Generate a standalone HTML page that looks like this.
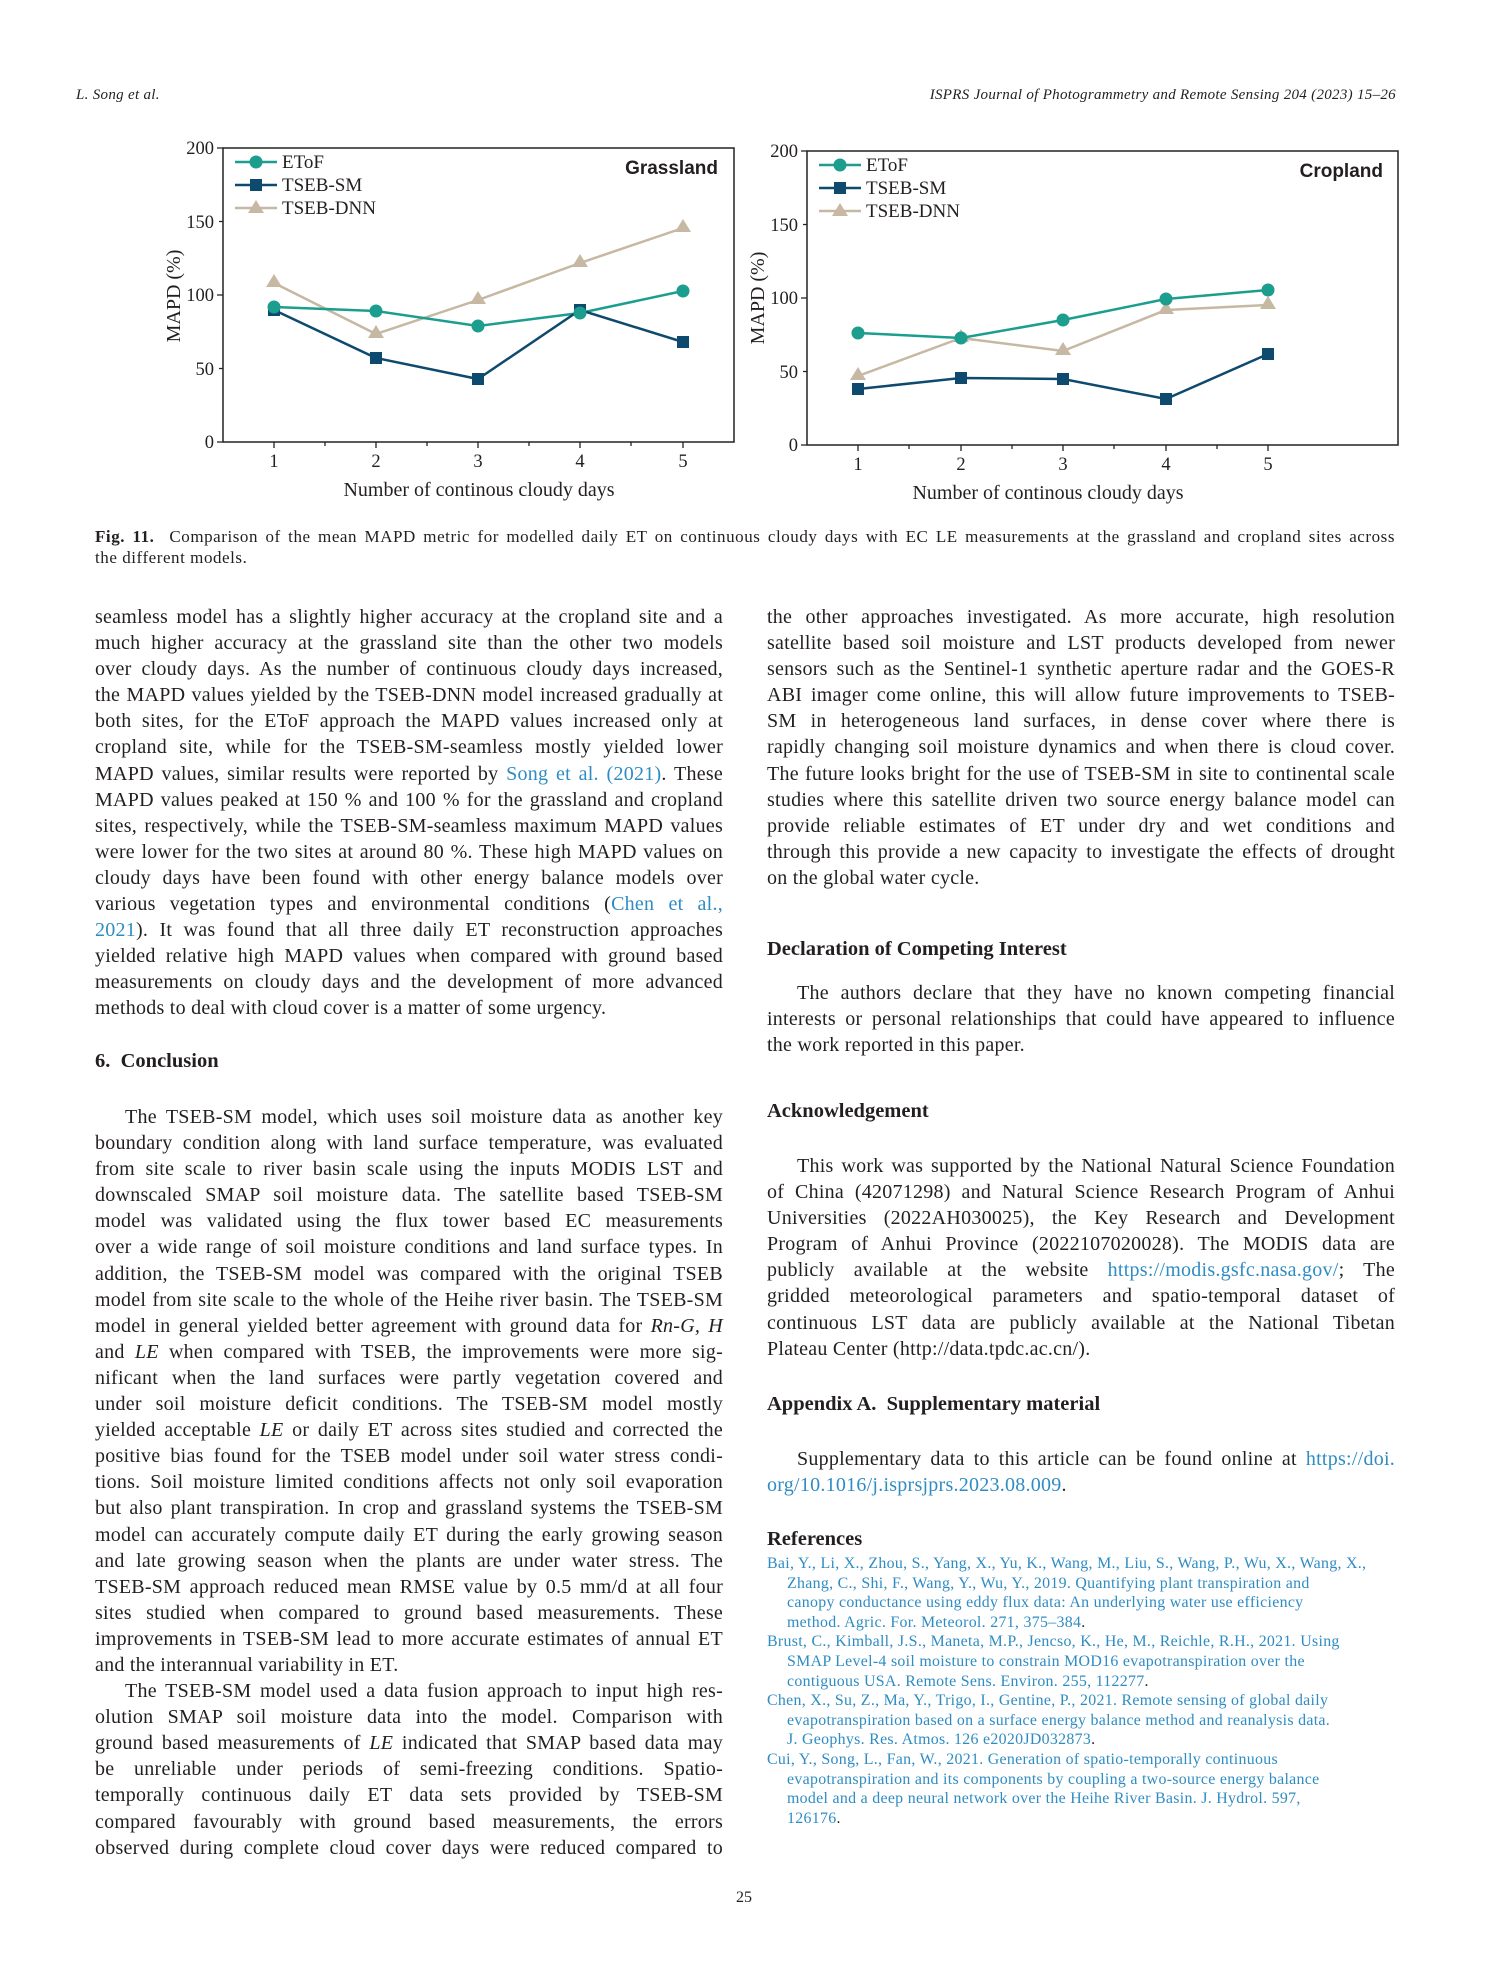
<!DOCTYPE html>
<html><head><meta charset="utf-8"><style>
body{margin:0;background:#fff;}
#pg{position:relative;width:1488px;height:1984px;overflow:hidden;font-family:"Liberation Serif",serif;color:#231f20;}
.a{position:absolute;}
.p{position:absolute;width:628px;font-size:20px;letter-spacing:0.25px;line-height:26.1px;}
.p div{text-align:justify;text-align-last:justify;white-space:nowrap;}
.p div.e{text-align-last:left;}
.p div.i{text-indent:30px;}
.lk{color:#2f8cc3;}
.h{position:absolute;font-weight:bold;font-size:20.5px;}
.r{position:absolute;left:767px;width:640px;font-size:15.9px;letter-spacing:0.3px;line-height:19.6px;color:#2f8cc3;white-space:nowrap;}
.r div{padding-left:20px;text-indent:-20px;}
.cap{position:absolute;left:95px;width:1300px;font-size:17px;letter-spacing:0.55px;line-height:21px}
.cap div{text-align:justify;text-align-last:justify;white-space:nowrap}
</style></head><body><div id="pg">
<div class="a" style="left:76px;top:87px;font-size:15px;font-style:italic;letter-spacing:0.3px">L. Song et al.</div>
<div class="a" style="right:92px;top:87px;font-size:15px;font-style:italic;letter-spacing:0.3px">ISPRS Journal of Photogrammetry and Remote Sensing 204 (2023) 15–26</div>

<svg class="a" style="left:0;top:0" width="1488" height="520" font-family="Liberation Serif, serif" fill="#231f20">
<g stroke="#222" stroke-width="1.5" fill="none">
<rect x="223" y="148" width="511" height="294"/>
<rect x="807" y="151" width="591" height="294"/>
</g>
<g stroke="#222" stroke-width="1.3">
<path d="M223 148h-6M223 221.5h-4M223 295h-6M223 368.5h-4M223 442h-6M274 442v6M376 442v6M478 442v6M580 442v6M683 442v6M325 442v4M427 442v4M529 442v4M631 442v4"/>
<path d="M807 151h-6M807 224.5h-4M807 298h-6M807 371.5h-4M807 445h-6M858 445v6M961 445v6M1063 445v6M1166 445v6M1268 445v6M909 445v4M1012 445v4M1114 445v4M1217 445v4"/>
</g>
<g font-size="18.5" text-anchor="end">
<text x="214" y="154">200</text><text x="214" y="228">150</text><text x="214" y="301">100</text><text x="214" y="375">50</text><text x="214" y="448">0</text>
<text x="798" y="157">200</text><text x="798" y="231">150</text><text x="798" y="304">100</text><text x="798" y="378">50</text><text x="798" y="451">0</text>
</g>
<g font-size="18.5" text-anchor="middle">
<text x="274" y="467">1</text><text x="376" y="467">2</text><text x="478" y="467">3</text><text x="580" y="467">4</text><text x="683" y="467">5</text>
<text x="858" y="470">1</text><text x="961" y="470">2</text><text x="1063" y="470">3</text><text x="1166" y="470">4</text><text x="1268" y="470">5</text>
<text x="479" y="496" font-size="20">Number of continous cloudy days</text>
<text x="1048" y="499" font-size="20">Number of continous cloudy days</text>
<text transform="translate(180,296) rotate(-90)" font-size="20">MAPD (%)</text>
<text transform="translate(764,298) rotate(-90)" font-size="20">MAPD (%)</text>
</g>
<g font-family="Liberation Sans, sans-serif" font-weight="bold" font-size="19" text-anchor="end">
<text x="718" y="174">Grassland</text><text x="1383" y="177">Cropland</text>
</g>
<polyline fill="none" stroke="#c6b8a2" stroke-width="2.5" points="274,283 376,334 478,300 580,263 683,228"/>
<polyline fill="none" stroke="#1b9e8e" stroke-width="2.5" points="274,307 376,311 478,326 580,313 683,291"/>
<polyline fill="none" stroke="#0e4a6e" stroke-width="2.5" points="274,310 376,358 478,379 580,310 683,342"/>
<g fill="#c6b8a2"><path d="M274,274l8,13h-16z"/><path d="M376,325l8,13h-16z"/><path d="M478,291l8,13h-16z"/><path d="M580,254l8,13h-16z"/><path d="M683,219l8,13h-16z"/></g>
<g fill="#0e4a6e"><rect x="268" y="304" width="12" height="12"/><rect x="370" y="352" width="12" height="12"/><rect x="472" y="373" width="12" height="12"/><rect x="574" y="304" width="12" height="12"/><rect x="677" y="336" width="12" height="12"/></g>
<g fill="#1b9e8e"><circle cx="274" cy="307" r="6.5"/><circle cx="376" cy="311" r="6.5"/><circle cx="478" cy="326" r="6.5"/><circle cx="580" cy="313" r="6.5"/><circle cx="683" cy="291" r="6.5"/></g>
<polyline fill="none" stroke="#c6b8a2" stroke-width="2.5" points="858,376 961,338 1063,351 1166,310 1268,305"/>
<polyline fill="none" stroke="#1b9e8e" stroke-width="2.5" points="858,333 961,338 1063,320 1166,299 1268,290"/>
<polyline fill="none" stroke="#0e4a6e" stroke-width="2.5" points="858,389 961,378 1063,379 1166,399 1268,354"/>
<g fill="#c6b8a2"><path d="M858,367l8,13h-16z"/><path d="M961,329l8,13h-16z"/><path d="M1063,342l8,13h-16z"/><path d="M1166,301l8,13h-16z"/><path d="M1268,296l8,13h-16z"/></g>
<g fill="#0e4a6e"><rect x="852" y="383" width="12" height="12"/><rect x="955" y="372" width="12" height="12"/><rect x="1057" y="373" width="12" height="12"/><rect x="1160" y="393" width="12" height="12"/><rect x="1262" y="348" width="12" height="12"/></g>
<g fill="#1b9e8e"><circle cx="858" cy="333" r="6.5"/><circle cx="961" cy="338" r="6.5"/><circle cx="1063" cy="320" r="6.5"/><circle cx="1166" cy="299" r="6.5"/><circle cx="1268" cy="290" r="6.5"/></g>
<g stroke-width="2.5">
<path d="M235 162h42" stroke="#1b9e8e"/><path d="M235 185h42" stroke="#0e4a6e"/><path d="M235 208h42" stroke="#c6b8a2"/>
<path d="M819 165h42" stroke="#1b9e8e"/><path d="M819 188h42" stroke="#0e4a6e"/><path d="M819 211h42" stroke="#c6b8a2"/>
</g>
<circle cx="256" cy="162" r="6.5" fill="#1b9e8e"/><rect x="250" y="179" width="12" height="12" fill="#0e4a6e"/><path d="M256,200l8,13h-16z" fill="#c6b8a2"/>
<circle cx="840" cy="165" r="6.5" fill="#1b9e8e"/><rect x="834" y="182" width="12" height="12" fill="#0e4a6e"/><path d="M840,203l8,13h-16z" fill="#c6b8a2"/>
<g font-size="19"><text x="282" y="168">EToF</text><text x="282" y="191">TSEB-SM</text><text x="282" y="214">TSEB-DNN</text>
<text x="866" y="171">EToF</text><text x="866" y="194">TSEB-SM</text><text x="866" y="217">TSEB-DNN</text></g>
</svg>

<div class="cap" style="top:526px">
<div><b>Fig. 11.</b>&nbsp; Comparison of the mean MAPD metric for modelled daily ET on continuous cloudy days with EC LE measurements at the grassland and cropland sites across</div>
<div style="text-align-last:left">the different models.</div>
</div>

<div class="p" style="left:95px;top:604px">
<div>seamless model has a slightly higher accuracy at the cropland site and a</div>
<div>much higher accuracy at the grassland site than the other two models</div>
<div>over cloudy days. As the number of continuous cloudy days increased,</div>
<div>the MAPD values yielded by the TSEB-DNN model increased gradually at</div>
<div>both sites, for the EToF approach the MAPD values increased only at</div>
<div>cropland site, while for the TSEB-SM-seamless mostly yielded lower</div>
<div>MAPD values, similar results were reported by <span class="lk">Song et al. (2021)</span>. These</div>
<div>MAPD values peaked at 150 % and 100 % for the grassland and cropland</div>
<div>sites, respectively, while the TSEB-SM-seamless maximum MAPD values</div>
<div>were lower for the two sites at around 80 %. These high MAPD values on</div>
<div>cloudy days have been found with other energy balance models over</div>
<div>various vegetation types and environmental conditions (<span class="lk">Chen et al.,</span></div>
<div><span class="lk">2021</span>). It was found that all three daily ET reconstruction approaches</div>
<div>yielded relative high MAPD values when compared with ground based</div>
<div>measurements on cloudy days and the development of more advanced</div>
<div class="e">methods to deal with cloud cover is a matter of some urgency.</div>
</div>
<div class="h" style="left:95px;top:1050px">6.&nbsp; Conclusion</div>
<div class="p" style="left:95px;top:1104px">
<div class="i">The TSEB-SM model, which uses soil moisture data as another key</div>
<div>boundary condition along with land surface temperature, was evaluated</div>
<div>from site scale to river basin scale using the inputs MODIS LST and</div>
<div>downscaled SMAP soil moisture data. The satellite based TSEB-SM</div>
<div>model was validated using the flux tower based EC measurements</div>
<div>over a wide range of soil moisture conditions and land surface types. In</div>
<div>addition, the TSEB-SM model was compared with the original TSEB</div>
<div>model from site scale to the whole of the Heihe river basin. The TSEB-SM</div>
<div>model in general yielded better agreement with ground data for <i>Rn-G, H</i></div>
<div>and <i>LE</i> when compared with TSEB, the improvements were more sig-</div>
<div>nificant when the land surfaces were partly vegetation covered and</div>
<div>under soil moisture deficit conditions. The TSEB-SM model mostly</div>
<div>yielded acceptable <i>LE</i> or daily ET across sites studied and corrected the</div>
<div>positive bias found for the TSEB model under soil water stress condi-</div>
<div>tions. Soil moisture limited conditions affects not only soil evaporation</div>
<div>but also plant transpiration. In crop and grassland systems the TSEB-SM</div>
<div>model can accurately compute daily ET during the early growing season</div>
<div>and late growing season when the plants are under water stress. The</div>
<div>TSEB-SM approach reduced mean RMSE value by 0.5 mm/d at all four</div>
<div>sites studied when compared to ground based measurements. These</div>
<div>improvements in TSEB-SM lead to more accurate estimates of annual ET</div>
<div class="e">and the interannual variability in ET.</div>
<div class="i">The TSEB-SM model used a data fusion approach to input high res-</div>
<div>olution SMAP soil moisture data into the model. Comparison with</div>
<div>ground based measurements of <i>LE</i> indicated that SMAP based data may</div>
<div>be unreliable under periods of semi-freezing conditions. Spatio-</div>
<div>temporally continuous daily ET data sets provided by TSEB-SM</div>
<div>compared favourably with ground based measurements, the errors</div>
<div>observed during complete cloud cover days were reduced compared to</div>
</div>

<div class="p" style="left:767px;top:604px">
<div>the other approaches investigated. As more accurate, high resolution</div>
<div>satellite based soil moisture and LST products developed from newer</div>
<div>sensors such as the Sentinel-1 synthetic aperture radar and the GOES-R</div>
<div>ABI imager come online, this will allow future improvements to TSEB-</div>
<div>SM in heterogeneous land surfaces, in dense cover where there is</div>
<div>rapidly changing soil moisture dynamics and when there is cloud cover.</div>
<div>The future looks bright for the use of TSEB-SM in site to continental scale</div>
<div>studies where this satellite driven two source energy balance model can</div>
<div>provide reliable estimates of ET under dry and wet conditions and</div>
<div>through this provide a new capacity to investigate the effects of drought</div>
<div class="e">on the global water cycle.</div>
</div>
<div class="h" style="left:767px;top:938px">Declaration of Competing Interest</div>
<div class="p" style="left:767px;top:980px">
<div class="i">The authors declare that they have no known competing financial</div>
<div>interests or personal relationships that could have appeared to influence</div>
<div class="e">the work reported in this paper.</div>
</div>
<div class="h" style="left:767px;top:1100px">Acknowledgement</div>
<div class="p" style="left:767px;top:1153px">
<div class="i">This work was supported by the National Natural Science Foundation</div>
<div>of China (42071298) and Natural Science Research Program of Anhui</div>
<div>Universities (2022AH030025), the Key Research and Development</div>
<div>Program of Anhui Province (2022107020028). The MODIS data are</div>
<div>publicly available at the website <span class="lk">https://modis.gsfc.nasa.gov/</span>; The</div>
<div>gridded meteorological parameters and spatio-temporal dataset of</div>
<div>continuous LST data are publicly available at the National Tibetan</div>
<div class="e">Plateau Center (http://data.tpdc.ac.cn/).</div>
</div>
<div class="h" style="left:767px;top:1393px">Appendix A.&nbsp; Supplementary material</div>
<div class="p" style="left:767px;top:1446px">
<div class="i">Supplementary data to this article can be found online at <span class="lk">https://doi.</span></div>
<div class="e"><span class="lk">org/10.1016/j.isprsjprs.2023.08.009</span>.</div>
</div>
<div class="h" style="left:767px;top:1528px">References</div>
<div class="r" style="top:1554px">
<div>Bai, Y., Li, X., Zhou, S., Yang, X., Yu, K., Wang, M., Liu, S., Wang, P., Wu, X., Wang, X.,<br>Zhang, C., Shi, F., Wang, Y., Wu, Y., 2019. Quantifying plant transpiration and<br>canopy conductance using eddy flux data: An underlying water use efficiency<br>method. Agric. For. Meteorol. 271, 375–384<span style="color:#231f20">.</span></div>
<div>Brust, C., Kimball, J.S., Maneta, M.P., Jencso, K., He, M., Reichle, R.H., 2021. Using<br>SMAP Level-4 soil moisture to constrain MOD16 evapotranspiration over the<br>contiguous USA. Remote Sens. Environ. 255, 112277<span style="color:#231f20">.</span></div>
<div>Chen, X., Su, Z., Ma, Y., Trigo, I., Gentine, P., 2021. Remote sensing of global daily<br>evapotranspiration based on a surface energy balance method and reanalysis data.<br>J. Geophys. Res. Atmos. 126 e2020JD032873<span style="color:#231f20">.</span></div>
<div>Cui, Y., Song, L., Fan, W., 2021. Generation of spatio-temporally continuous<br>evapotranspiration and its components by coupling a two-source energy balance<br>model and a deep neural network over the Heihe River Basin. J. Hydrol. 597,<br>126176<span style="color:#231f20">.</span></div>
</div>
<div class="a" style="left:736px;top:1889px;font-size:16px">25</div>
</div></body></html>
